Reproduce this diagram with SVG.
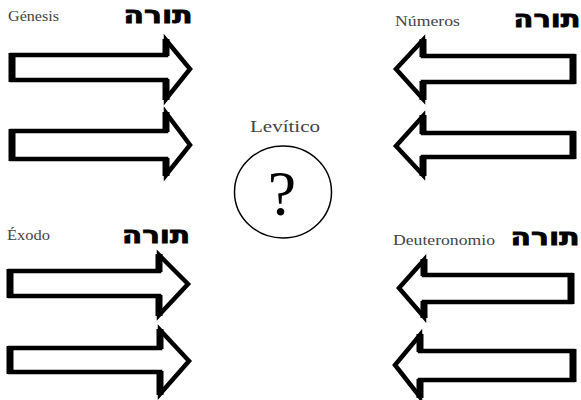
<svg xmlns="http://www.w3.org/2000/svg" width="581" height="400" viewBox="0 0 581 400">
<defs>
<style>
.arrow{fill:#fff;stroke:#000;stroke-width:4.5;stroke-linejoin:miter;stroke-miterlimit:10}
.edge{stroke:#000;stroke-width:7;fill:none}
.lbl{font-family:"Liberation Serif","Times New Roman",serif;fill:#444}
.heb{font-family:"DejaVu Sans","Liberation Sans",sans-serif;font-weight:bold;font-size:24px;fill:#000;stroke:#000;stroke-width:0.8;text-anchor:middle}
</style>
</defs>
<rect width="581" height="400" fill="#fff"/>
<g id="genesis">
<text class="lbl" x="8" y="21" font-size="14" textLength="51" lengthAdjust="spacingAndGlyphs">Génesis</text>
<text class="heb" x="158" y="23" textLength="69" lengthAdjust="spacingAndGlyphs">תורה</text>
</g>
<g id="numeros">
<text class="lbl" x="395" y="26" font-size="15" textLength="65" lengthAdjust="spacingAndGlyphs">Números</text>
<text class="heb" x="547" y="27" textLength="67" lengthAdjust="spacingAndGlyphs">תורה</text>
</g>
<g id="exodo">
<text class="lbl" x="7" y="240" font-size="14" textLength="43" lengthAdjust="spacingAndGlyphs">Éxodo</text>
<text class="heb" x="156" y="243" textLength="68" lengthAdjust="spacingAndGlyphs">תורה</text>
</g>
<g id="deuteronomio">
<text class="lbl" x="393" y="245" font-size="14" textLength="102" lengthAdjust="spacingAndGlyphs">Deuteronomio</text>
<text class="heb" x="545" y="245" textLength="69" lengthAdjust="spacingAndGlyphs">תורה</text>
</g>
<g id="levitico">
<text class="lbl" x="285" y="132" font-size="16" text-anchor="middle" textLength="70" lengthAdjust="spacingAndGlyphs" fill="#555">Levítico</text>
<ellipse cx="283" cy="192" rx="48.5" ry="46" fill="none" stroke="#000" stroke-width="1.5"/>
<text x="282" y="215" font-family="Liberation Serif, Times New Roman, serif" font-size="64" text-anchor="middle" fill="#000">?</text>
</g>
<g id="arrows">
<g id="a1"><polygon class="arrow" points="12,55 166,55 166,40 190,69 166,99 166,80 12,80"/><path class="edge" d="M12,53 V82 M166,39 V56 M166,79 V100"/></g>
<g id="a2"><polygon class="arrow" points="12,131 166,131 166,113 190,145 166,175 166,159 12,159"/><path class="edge" d="M12,129 V161 M166,112 V132 M166,158 V176"/></g>
<g id="a3"><polygon class="arrow" points="10,271 159,271 159,255 188,284 159,315 159,296 10,296"/><path class="edge" d="M10,269 V298 M159,254 V272 M159,295 V316"/></g>
<g id="a4"><polygon class="arrow" points="10,348 160,348 160,330 189,361 160,394 160,372 10,372"/><path class="edge" d="M10,346 V374 M160,329 V349 M160,371 V395"/></g>
<g id="a5"><polygon class="arrow" points="573,56 423,56 423,40 396,69 423,99 423,82 573,82"/><path class="edge" d="M573,54 V84 M423,39 V57 M423,81 V100"/></g>
<g id="a6"><polygon class="arrow" points="573,133 423,133 423,116 396,146 423,175 423,157 573,157"/><path class="edge" d="M573,131 V159 M423,115 V134 M423,156 V176"/></g>
<g id="a7"><polygon class="arrow" points="571,275 424,275 424,260 399,288 424,317 424,302 571,302"/><path class="edge" d="M571,273 V304 M424,259 V276 M424,301 V318"/></g>
<g id="a8"><polygon class="arrow" points="573,351 420,351 420,335 395,365 420,397 420,380 573,380"/><path class="edge" d="M573,349 V382 M420,334 V352 M420,379 V398"/></g>
</g>
</svg>
